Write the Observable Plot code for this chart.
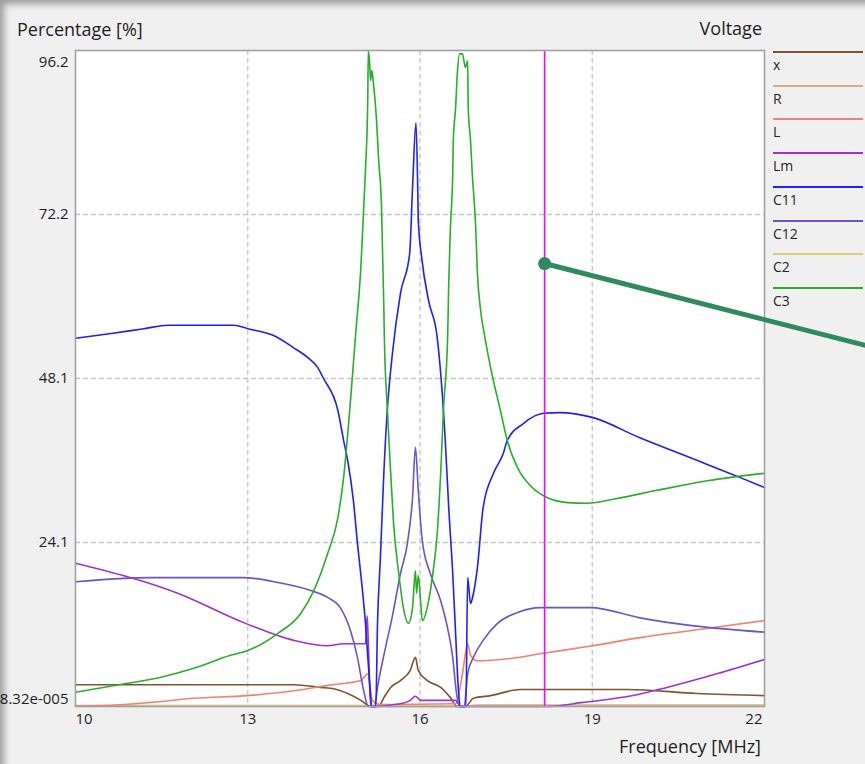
<!DOCTYPE html>
<html>
<head>
<meta charset="utf-8">
<script src="https://cdn.jsdelivr.net/npm/d3@7"></script>
<script src="https://cdn.jsdelivr.net/npm/@observablehq/plot@0.6"></script>
<style>
  html, body { margin: 0; padding: 0; background: #f0f0f0; }
  #wrap { position: relative; width: 865px; height: 764px; background: #f0f0f0; overflow: hidden;
          font-family: "Open Sans", "Noto Sans", sans-serif; color: #1e1e1e; }
  #shadow { position: absolute; left: 0; top: 0; width: 865px; height: 764px; pointer-events: none; z-index: 5;
            box-shadow: inset 7px 7px 7px -3px rgba(0,0,0,0.35); }
  .ttl { position: absolute; font-size: 18px; line-height: 18px; white-space: nowrap; z-index: 3; }
  #chart { position: absolute; left: 0; top: 0; z-index: 2; }
  .legline { position: absolute; left: 773px; width: 90px; height: 2px; z-index: 1; }
  .leglab { position: absolute; left: 773px; font-size: 14px; line-height: 14px; z-index: 1; color: #262626; }
</style>
</head>
<body>
<div id="wrap">
  <div class="ttl" style="left:17px; top:20px;">Percentage [%]</div>
  <div class="ttl" style="right:103px; top:19px;">Voltage</div>
  <div class="ttl" style="right:104px; top:737px;">Frequency [MHz]</div>
  <div id="chart"></div>
  <div id="shadow"></div>
</div>
<script>
// ---- series names / colours (legend order) ----
const seriesNames  = ["x", "R", "L", "Lm", "C11", "C12", "C2", "C3"];
const seriesColors = ["#7f542f", "#d6ad82", "#ef8270", "#9a36cc", "#1f1fff", "#6e54c8", "#d8cc74", "#2aae2a"];

// ---- axis ticks ----
const xTickValues = [10, 13, 16, 19, 22];
const xTickLabels = ["10", "13", "16", "19", "22"];
const xGridValues = [13, 16, 19];
const yTickValues = [96.2, 72.15, 48.1, 24.05, 0.0000832];
const yTickLabels = ["96.2", "72.2", "48.1", "24.1", "8.32e-005"];
const yGridValues = [24.05, 48.1, 72.15];

// ---- cursor & callout ----
const cursorFreq = 18.17;
const calloutStart = [18.17, 64.96];
const calloutEnd = [24.02, 52.4];

// ---- series data (frequency MHz / percentage) ----
const xF = [10.00,13.80,14.27,14.50,14.74,14.97,15.14,15.28,15.37,15.49,15.66,15.83,15.92,15.97,16.13,16.36,16.53,16.65,16.79,16.93,17.23,17.75,19.61,20.83,22.00];
const xV = [3.2,3.2,2.8,2.6,1.9,0.9,0,0,1.3,2.8,3.8,5.3,7.2,5.3,3.8,2.8,1.3,0,0,1.2,1.6,2.5,2.5,1.9,1.6];

const rF = [10.00,15.10,15.20,16.70,17.00,22.00];
const rV = [0.15,0.15,0.0,0.0,0.2,0.2];

const lF = [10.00,10.50,11.31,12.06,13.00,13.80,14.39,14.97,15.09,15.17,15.30,16.62,16.74,16.83,16.88,17.00,17.52,18.15,19.00,19.83,20.70,22.00];
const lV = [0.1,0.15,0.6,1.2,1.6,2.3,3.1,3.8,4.8,0.9,0.3,0.4,4.8,9.2,7.5,6.7,7.0,7.8,8.9,10.1,11.1,12.6];

const lmF = [10.00,11.78,12.93,13.80,14.39,14.67,15.05,15.08,15.10,15.14,15.66,15.83,15.92,16.01,16.62,16.70,18.22,18.84,19.71,20.30,21.17,22.00];
const lmV = [21.0,16.6,12.3,9.7,8.9,9.2,9.2,13.3,9.2,0,0.4,0.9,1.5,0.9,0.9,0,0,0.6,1.6,2.8,4.8,6.9];

const c11F = [10.00,10.62,11.19,11.61,12.76,13.00,13.45,13.80,14.04,14.22,14.32,14.57,14.67,14.74,14.84,14.91,14.98,15.05,15.12,15.16,15.23,15.26,15.31,15.37,15.43,15.52,15.66,15.82,15.87,15.93,15.96,15.97,16.03,16.15,16.30,16.44,16.50,16.57,16.62,16.67,16.70,16.75,16.80,16.83,16.88,16.91,17.00,17.10,17.28,17.45,17.52,17.80,18.15,18.44,19.00,19.83,20.70,21.57,22.00];
const c11V = [54.0,54.7,55.4,55.9,55.9,55.4,54.4,52.6,51.2,49.7,48.1,43.4,39.0,36.1,30.2,24.0,18.5,12.2,3.8,0,0,12.2,21.8,34.2,43.4,51.8,60.6,66.4,76.1,85.6,76.1,71.3,65.8,59.5,54.1,39.0,29.2,19.5,10.7,2.3,0,0,0,18.9,15.1,15.8,20.4,29.2,34.2,37.1,39.0,41.5,43.0,43.1,42.4,39.4,36.5,33.6,32.1];

const c12F = [10.00,11.31,12.91,13.52,14.10,14.39,14.62,14.79,14.91,15.02,15.10,15.21,15.26,15.37,15.52,15.66,15.78,15.87,15.92,15.97,16.04,16.18,16.36,16.50,16.57,16.63,16.69,16.77,16.83,16.93,17.10,17.35,17.70,18.10,18.97,19.83,20.70,22.00];
const c12V = [18.3,18.9,18.9,18.2,17.0,16.0,14.4,11.1,7.2,2.3,0,0,2.8,7.5,13.3,19.5,23.9,30.6,38.0,31.7,24.3,19.5,15.5,10.7,7.2,2.3,0,0,4.8,7.2,9.7,12.2,13.8,14.5,14.5,13.0,11.9,10.9];

const c2F = [10.00,22.00];
const c2V = [0.05,0.05];

const c3F = [10.00,10.91,11.49,12.06,12.70,13.00,13.52,13.92,14.15,14.39,14.57,14.67,14.79,14.88,14.97,15.02,15.05,15.09,15.10,15.12,15.14,15.16,15.19,15.24,15.28,15.33,15.35,15.37,15.38,15.43,15.49,15.54,15.63,15.71,15.80,15.87,15.92,15.94,15.97,16.01,16.04,16.15,16.23,16.30,16.36,16.41,16.48,16.50,16.53,16.57,16.58,16.62,16.65,16.69,16.74,16.79,16.83,16.84,16.88,16.91,16.97,17.00,17.05,17.14,17.23,17.40,17.52,17.70,17.92,18.22,18.57,18.91,19.43,20.13,21.00,22.00];
const c3V = [2.1,3.4,4.3,5.6,7.5,8.2,10.7,13.6,17.0,22.4,27.7,33.6,44.9,54.7,64.4,73.2,78.6,88.9,96.2,94.7,91.8,93.3,91.3,86.4,80.1,73.2,65.8,58.5,53.7,43.8,34.2,26.8,19.5,14.5,12.2,14.5,19.9,16.6,19.2,15.5,12.6,15.5,19.9,25.4,34.2,43.8,53.7,62.0,70.3,78.2,83.0,87.8,92.8,95.7,95.7,93.7,94.7,87.8,83.0,78.2,70.3,63.5,58.5,53.7,49.7,43.4,39.0,35.0,32.4,30.6,29.9,29.8,30.5,31.7,33.1,34.2];

// ---- assemble long table (drawing order) ----
const seriesSets = {
  "R": [rF, rV], "C2": [c2F, c2V], "x": [xF, xV], "L": [lF, lV], "Lm": [lmF, lmV],
  "C12": [c12F, c12V], "C11": [c11F, c11V], "C3": [c3F, c3V]
};
const drawOrder = ["R", "C2", "x", "L", "Lm", "C12", "C11", "C3"];
const table = [];
for (const s of drawOrder) {
  const [fs, vs] = seriesSets[s];
  fs.forEach((f, i) => table.push({series: s, f, v: vs[i]}));
}

const yTicks = yTickValues.map((v, i) => ({v, label: yTickLabels[i]}));
const xTicks = xTickValues.map((v, i) => ({v, label: xTickLabels[i]}));
const callout = [{x1: calloutStart[0], y1: calloutStart[1], x2: calloutEnd[0], y2: calloutEnd[1]}];

const font = "'Open Sans', 'Noto Sans', sans-serif";
const gridStyle = {stroke: "#c6c6c6", strokeOpacity: 1, strokeWidth: 1.3, strokeDasharray: "5,3"};
const tickFont = 15;

const chart = Plot.plot({
  width: 865,
  height: 764,
  marginLeft: 75,
  marginRight: 101,
  marginTop: 50,
  marginBottom: 58,
  x: {domain: [10, 22], axis: null},
  y: {domain: [0, 96.2], axis: null},
  color: {domain: seriesNames, range: seriesColors},
  style: {background: "transparent", fontFamily: font, color: "#1e1e1e", overflow: "visible"},
  marks: [
    Plot.frame({fill: "white", stroke: "none"}),
    Plot.ruleX(xGridValues, gridStyle),
    Plot.ruleY(yGridValues, gridStyle),
    Plot.line(table, {x: "f", y: "v", z: "series", stroke: "series", strokeWidth: 1.6, curve: "monotone-x"}),
    Plot.ruleX([cursorFreq], {stroke: "#ff00ff", strokeWidth: 1.6}),
    Plot.frame({stroke: "#a2a2a2", strokeWidth: 1.6}),
    // y tick labels
    Plot.text(yTicks.slice(1, 4), {y: "v", text: "label", frameAnchor: "left", dx: -7, textAnchor: "end", fontSize: tickFont, fontFamily: font}),
    Plot.text(yTicks.slice(0, 1), {y: "v", text: "label", frameAnchor: "left", dx: -7, dy: 12, textAnchor: "end", fontSize: tickFont, fontFamily: font}),
    Plot.text(yTicks.slice(4), {y: "v", text: "label", frameAnchor: "left", dx: -7, dy: -7, textAnchor: "end", fontSize: tickFont, fontFamily: font}),
    // x tick labels
    Plot.text(xTicks.slice(0, 1), {x: "v", text: "label", frameAnchor: "bottom", dy: 17, textAnchor: "start", fontSize: tickFont, fontFamily: font}),
    Plot.text(xTicks.slice(1, 4), {x: "v", text: "label", frameAnchor: "bottom", dy: 17, textAnchor: "middle", fontSize: tickFont, fontFamily: font}),
    Plot.text(xTicks.slice(4), {x: "v", text: "label", frameAnchor: "bottom", dy: 17, dx: -2, textAnchor: "end", fontSize: tickFont, fontFamily: font}),
    // callout
    Plot.link(callout, {x1: "x1", y1: "y1", x2: "x2", y2: "y2", stroke: "#2e8b5f", strokeWidth: 5}),
    Plot.dot(callout, {x: "x1", y: "y1", r: 6.5, fill: "#2e8b5f", stroke: "none"})
  ]
});
document.getElementById("chart").appendChild(chart);

// ---- legend (HTML, right side) ----
const wrap = document.getElementById("wrap");
seriesNames.forEach((name, i) => {
  const y = 52 + i * 33.7;
  const line = document.createElement("div");
  line.className = "legline";
  line.style.top = (y - 1) + "px";
  line.style.background = seriesColors[i];
  wrap.appendChild(line);
  const lab = document.createElement("div");
  lab.className = "leglab";
  lab.style.top = (y + 6) + "px";
  lab.textContent = name;
  wrap.appendChild(lab);
});
</script>
</body>
</html>
